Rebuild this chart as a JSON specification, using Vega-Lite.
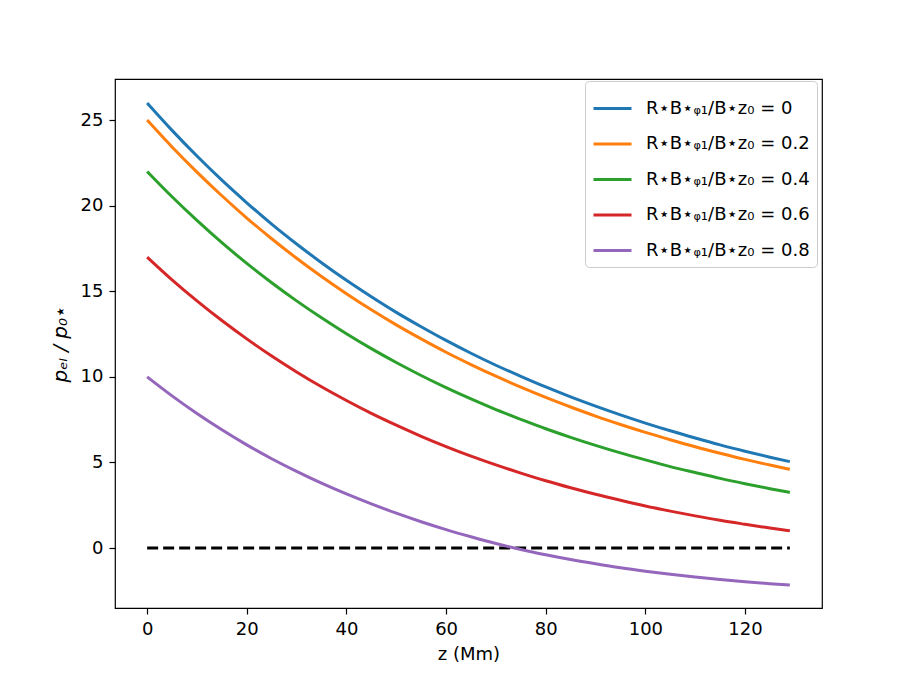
{
  "$schema": "https://vega.github.io/schema/vega-lite/v6.json",
  "width": 707,
  "height": 529,
  "autosize": {"type": "none"},
  "padding": {"left": 115, "top": 79, "right": 91, "bottom": 76},
  "config": {
    "font": "DejaVu Sans",
    "view": {"stroke": "black", "strokeWidth": 1.2},
    "axis": {
      "grid": false,
      "domain": false,
      "tickColor": "black",
      "tickSize": 6,
      "tickWidth": 1.2,
      "labelColor": "black",
      "labelFontSize": 18,
      "labelPadding": 6,
      "titleColor": "black",
      "titleFontSize": 18,
      "titleFontWeight": "normal"
    }
  },
  "datasets": {
    "curves": [
      {"z": 0, "p": 26.0, "s": "R⋆B⋆ᵩ₁/B⋆z₀ = 0"},
      {"z": 5, "p": 24.4, "s": "R⋆B⋆ᵩ₁/B⋆z₀ = 0"},
      {"z": 10, "p": 22.9, "s": "R⋆B⋆ᵩ₁/B⋆z₀ = 0"},
      {"z": 15, "p": 21.49, "s": "R⋆B⋆ᵩ₁/B⋆z₀ = 0"},
      {"z": 20, "p": 20.17, "s": "R⋆B⋆ᵩ₁/B⋆z₀ = 0"},
      {"z": 25, "p": 18.92, "s": "R⋆B⋆ᵩ₁/B⋆z₀ = 0"},
      {"z": 30, "p": 17.76, "s": "R⋆B⋆ᵩ₁/B⋆z₀ = 0"},
      {"z": 35, "p": 16.67, "s": "R⋆B⋆ᵩ₁/B⋆z₀ = 0"},
      {"z": 40, "p": 15.64, "s": "R⋆B⋆ᵩ₁/B⋆z₀ = 0"},
      {"z": 45, "p": 14.68, "s": "R⋆B⋆ᵩ₁/B⋆z₀ = 0"},
      {"z": 50, "p": 13.77, "s": "R⋆B⋆ᵩ₁/B⋆z₀ = 0"},
      {"z": 55, "p": 12.93, "s": "R⋆B⋆ᵩ₁/B⋆z₀ = 0"},
      {"z": 60, "p": 12.13, "s": "R⋆B⋆ᵩ₁/B⋆z₀ = 0"},
      {"z": 65, "p": 11.38, "s": "R⋆B⋆ᵩ₁/B⋆z₀ = 0"},
      {"z": 70, "p": 10.68, "s": "R⋆B⋆ᵩ₁/B⋆z₀ = 0"},
      {"z": 75, "p": 10.03, "s": "R⋆B⋆ᵩ₁/B⋆z₀ = 0"},
      {"z": 80, "p": 9.41, "s": "R⋆B⋆ᵩ₁/B⋆z₀ = 0"},
      {"z": 85, "p": 8.83, "s": "R⋆B⋆ᵩ₁/B⋆z₀ = 0"},
      {"z": 90, "p": 8.29, "s": "R⋆B⋆ᵩ₁/B⋆z₀ = 0"},
      {"z": 95, "p": 7.78, "s": "R⋆B⋆ᵩ₁/B⋆z₀ = 0"},
      {"z": 100, "p": 7.3, "s": "R⋆B⋆ᵩ₁/B⋆z₀ = 0"},
      {"z": 105, "p": 6.85, "s": "R⋆B⋆ᵩ₁/B⋆z₀ = 0"},
      {"z": 110, "p": 6.43, "s": "R⋆B⋆ᵩ₁/B⋆z₀ = 0"},
      {"z": 115, "p": 6.03, "s": "R⋆B⋆ᵩ₁/B⋆z₀ = 0"},
      {"z": 120, "p": 5.66, "s": "R⋆B⋆ᵩ₁/B⋆z₀ = 0"},
      {"z": 125, "p": 5.31, "s": "R⋆B⋆ᵩ₁/B⋆z₀ = 0"},
      {"z": 129, "p": 5.05, "s": "R⋆B⋆ᵩ₁/B⋆z₀ = 0"},
      {"z": 0, "p": 25.0, "s": "R⋆B⋆ᵩ₁/B⋆z₀ = 0.2"},
      {"z": 5, "p": 23.43, "s": "R⋆B⋆ᵩ₁/B⋆z₀ = 0.2"},
      {"z": 10, "p": 21.96, "s": "R⋆B⋆ᵩ₁/B⋆z₀ = 0.2"},
      {"z": 15, "p": 20.58, "s": "R⋆B⋆ᵩ₁/B⋆z₀ = 0.2"},
      {"z": 20, "p": 19.28, "s": "R⋆B⋆ᵩ₁/B⋆z₀ = 0.2"},
      {"z": 25, "p": 18.07, "s": "R⋆B⋆ᵩ₁/B⋆z₀ = 0.2"},
      {"z": 30, "p": 16.93, "s": "R⋆B⋆ᵩ₁/B⋆z₀ = 0.2"},
      {"z": 35, "p": 15.86, "s": "R⋆B⋆ᵩ₁/B⋆z₀ = 0.2"},
      {"z": 40, "p": 14.86, "s": "R⋆B⋆ᵩ₁/B⋆z₀ = 0.2"},
      {"z": 45, "p": 13.92, "s": "R⋆B⋆ᵩ₁/B⋆z₀ = 0.2"},
      {"z": 50, "p": 13.04, "s": "R⋆B⋆ᵩ₁/B⋆z₀ = 0.2"},
      {"z": 55, "p": 12.22, "s": "R⋆B⋆ᵩ₁/B⋆z₀ = 0.2"},
      {"z": 60, "p": 11.44, "s": "R⋆B⋆ᵩ₁/B⋆z₀ = 0.2"},
      {"z": 65, "p": 10.72, "s": "R⋆B⋆ᵩ₁/B⋆z₀ = 0.2"},
      {"z": 70, "p": 10.04, "s": "R⋆B⋆ᵩ₁/B⋆z₀ = 0.2"},
      {"z": 75, "p": 9.4, "s": "R⋆B⋆ᵩ₁/B⋆z₀ = 0.2"},
      {"z": 80, "p": 8.8, "s": "R⋆B⋆ᵩ₁/B⋆z₀ = 0.2"},
      {"z": 85, "p": 8.24, "s": "R⋆B⋆ᵩ₁/B⋆z₀ = 0.2"},
      {"z": 90, "p": 7.71, "s": "R⋆B⋆ᵩ₁/B⋆z₀ = 0.2"},
      {"z": 95, "p": 7.22, "s": "R⋆B⋆ᵩ₁/B⋆z₀ = 0.2"},
      {"z": 100, "p": 6.76, "s": "R⋆B⋆ᵩ₁/B⋆z₀ = 0.2"},
      {"z": 105, "p": 6.33, "s": "R⋆B⋆ᵩ₁/B⋆z₀ = 0.2"},
      {"z": 110, "p": 5.92, "s": "R⋆B⋆ᵩ₁/B⋆z₀ = 0.2"},
      {"z": 115, "p": 5.54, "s": "R⋆B⋆ᵩ₁/B⋆z₀ = 0.2"},
      {"z": 120, "p": 5.18, "s": "R⋆B⋆ᵩ₁/B⋆z₀ = 0.2"},
      {"z": 125, "p": 4.85, "s": "R⋆B⋆ᵩ₁/B⋆z₀ = 0.2"},
      {"z": 129, "p": 4.6, "s": "R⋆B⋆ᵩ₁/B⋆z₀ = 0.2"},
      {"z": 0, "p": 22.0, "s": "R⋆B⋆ᵩ₁/B⋆z₀ = 0.4"},
      {"z": 5, "p": 20.52, "s": "R⋆B⋆ᵩ₁/B⋆z₀ = 0.4"},
      {"z": 10, "p": 19.14, "s": "R⋆B⋆ᵩ₁/B⋆z₀ = 0.4"},
      {"z": 15, "p": 17.84, "s": "R⋆B⋆ᵩ₁/B⋆z₀ = 0.4"},
      {"z": 20, "p": 16.63, "s": "R⋆B⋆ᵩ₁/B⋆z₀ = 0.4"},
      {"z": 25, "p": 15.5, "s": "R⋆B⋆ᵩ₁/B⋆z₀ = 0.4"},
      {"z": 30, "p": 14.44, "s": "R⋆B⋆ᵩ₁/B⋆z₀ = 0.4"},
      {"z": 35, "p": 13.45, "s": "R⋆B⋆ᵩ₁/B⋆z₀ = 0.4"},
      {"z": 40, "p": 12.52, "s": "R⋆B⋆ᵩ₁/B⋆z₀ = 0.4"},
      {"z": 45, "p": 11.65, "s": "R⋆B⋆ᵩ₁/B⋆z₀ = 0.4"},
      {"z": 50, "p": 10.84, "s": "R⋆B⋆ᵩ₁/B⋆z₀ = 0.4"},
      {"z": 55, "p": 10.08, "s": "R⋆B⋆ᵩ₁/B⋆z₀ = 0.4"},
      {"z": 60, "p": 9.37, "s": "R⋆B⋆ᵩ₁/B⋆z₀ = 0.4"},
      {"z": 65, "p": 8.71, "s": "R⋆B⋆ᵩ₁/B⋆z₀ = 0.4"},
      {"z": 70, "p": 8.09, "s": "R⋆B⋆ᵩ₁/B⋆z₀ = 0.4"},
      {"z": 75, "p": 7.52, "s": "R⋆B⋆ᵩ₁/B⋆z₀ = 0.4"},
      {"z": 80, "p": 6.97, "s": "R⋆B⋆ᵩ₁/B⋆z₀ = 0.4"},
      {"z": 85, "p": 6.47, "s": "R⋆B⋆ᵩ₁/B⋆z₀ = 0.4"},
      {"z": 90, "p": 6.0, "s": "R⋆B⋆ᵩ₁/B⋆z₀ = 0.4"},
      {"z": 95, "p": 5.56, "s": "R⋆B⋆ᵩ₁/B⋆z₀ = 0.4"},
      {"z": 100, "p": 5.15, "s": "R⋆B⋆ᵩ₁/B⋆z₀ = 0.4"},
      {"z": 105, "p": 4.76, "s": "R⋆B⋆ᵩ₁/B⋆z₀ = 0.4"},
      {"z": 110, "p": 4.41, "s": "R⋆B⋆ᵩ₁/B⋆z₀ = 0.4"},
      {"z": 115, "p": 4.07, "s": "R⋆B⋆ᵩ₁/B⋆z₀ = 0.4"},
      {"z": 120, "p": 3.76, "s": "R⋆B⋆ᵩ₁/B⋆z₀ = 0.4"},
      {"z": 125, "p": 3.47, "s": "R⋆B⋆ᵩ₁/B⋆z₀ = 0.4"},
      {"z": 129, "p": 3.25, "s": "R⋆B⋆ᵩ₁/B⋆z₀ = 0.4"},
      {"z": 0, "p": 17.0, "s": "R⋆B⋆ᵩ₁/B⋆z₀ = 0.6"},
      {"z": 5, "p": 15.67, "s": "R⋆B⋆ᵩ₁/B⋆z₀ = 0.6"},
      {"z": 10, "p": 14.44, "s": "R⋆B⋆ᵩ₁/B⋆z₀ = 0.6"},
      {"z": 15, "p": 13.29, "s": "R⋆B⋆ᵩ₁/B⋆z₀ = 0.6"},
      {"z": 20, "p": 12.22, "s": "R⋆B⋆ᵩ₁/B⋆z₀ = 0.6"},
      {"z": 25, "p": 11.22, "s": "R⋆B⋆ᵩ₁/B⋆z₀ = 0.6"},
      {"z": 30, "p": 10.29, "s": "R⋆B⋆ᵩ₁/B⋆z₀ = 0.6"},
      {"z": 35, "p": 9.42, "s": "R⋆B⋆ᵩ₁/B⋆z₀ = 0.6"},
      {"z": 40, "p": 8.62, "s": "R⋆B⋆ᵩ₁/B⋆z₀ = 0.6"},
      {"z": 45, "p": 7.87, "s": "R⋆B⋆ᵩ₁/B⋆z₀ = 0.6"},
      {"z": 50, "p": 7.18, "s": "R⋆B⋆ᵩ₁/B⋆z₀ = 0.6"},
      {"z": 55, "p": 6.53, "s": "R⋆B⋆ᵩ₁/B⋆z₀ = 0.6"},
      {"z": 60, "p": 5.93, "s": "R⋆B⋆ᵩ₁/B⋆z₀ = 0.6"},
      {"z": 65, "p": 5.37, "s": "R⋆B⋆ᵩ₁/B⋆z₀ = 0.6"},
      {"z": 70, "p": 4.86, "s": "R⋆B⋆ᵩ₁/B⋆z₀ = 0.6"},
      {"z": 75, "p": 4.38, "s": "R⋆B⋆ᵩ₁/B⋆z₀ = 0.6"},
      {"z": 80, "p": 3.93, "s": "R⋆B⋆ᵩ₁/B⋆z₀ = 0.6"},
      {"z": 85, "p": 3.52, "s": "R⋆B⋆ᵩ₁/B⋆z₀ = 0.6"},
      {"z": 90, "p": 3.14, "s": "R⋆B⋆ᵩ₁/B⋆z₀ = 0.6"},
      {"z": 95, "p": 2.79, "s": "R⋆B⋆ᵩ₁/B⋆z₀ = 0.6"},
      {"z": 100, "p": 2.46, "s": "R⋆B⋆ᵩ₁/B⋆z₀ = 0.6"},
      {"z": 105, "p": 2.16, "s": "R⋆B⋆ᵩ₁/B⋆z₀ = 0.6"},
      {"z": 110, "p": 1.88, "s": "R⋆B⋆ᵩ₁/B⋆z₀ = 0.6"},
      {"z": 115, "p": 1.62, "s": "R⋆B⋆ᵩ₁/B⋆z₀ = 0.6"},
      {"z": 120, "p": 1.39, "s": "R⋆B⋆ᵩ₁/B⋆z₀ = 0.6"},
      {"z": 125, "p": 1.17, "s": "R⋆B⋆ᵩ₁/B⋆z₀ = 0.6"},
      {"z": 129, "p": 1.01, "s": "R⋆B⋆ᵩ₁/B⋆z₀ = 0.6"},
      {"z": 0, "p": 10.0, "s": "R⋆B⋆ᵩ₁/B⋆z₀ = 0.8"},
      {"z": 5, "p": 8.89, "s": "R⋆B⋆ᵩ₁/B⋆z₀ = 0.8"},
      {"z": 10, "p": 7.86, "s": "R⋆B⋆ᵩ₁/B⋆z₀ = 0.8"},
      {"z": 15, "p": 6.91, "s": "R⋆B⋆ᵩ₁/B⋆z₀ = 0.8"},
      {"z": 20, "p": 6.03, "s": "R⋆B⋆ᵩ₁/B⋆z₀ = 0.8"},
      {"z": 25, "p": 5.22, "s": "R⋆B⋆ᵩ₁/B⋆z₀ = 0.8"},
      {"z": 30, "p": 4.48, "s": "R⋆B⋆ᵩ₁/B⋆z₀ = 0.8"},
      {"z": 35, "p": 3.79, "s": "R⋆B⋆ᵩ₁/B⋆z₀ = 0.8"},
      {"z": 40, "p": 3.16, "s": "R⋆B⋆ᵩ₁/B⋆z₀ = 0.8"},
      {"z": 45, "p": 2.58, "s": "R⋆B⋆ᵩ₁/B⋆z₀ = 0.8"},
      {"z": 50, "p": 2.04, "s": "R⋆B⋆ᵩ₁/B⋆z₀ = 0.8"},
      {"z": 55, "p": 1.54, "s": "R⋆B⋆ᵩ₁/B⋆z₀ = 0.8"},
      {"z": 60, "p": 1.08, "s": "R⋆B⋆ᵩ₁/B⋆z₀ = 0.8"},
      {"z": 65, "p": 0.66, "s": "R⋆B⋆ᵩ₁/B⋆z₀ = 0.8"},
      {"z": 70, "p": 0.27, "s": "R⋆B⋆ᵩ₁/B⋆z₀ = 0.8"},
      {"z": 75, "p": -0.08, "s": "R⋆B⋆ᵩ₁/B⋆z₀ = 0.8"},
      {"z": 80, "p": -0.39, "s": "R⋆B⋆ᵩ₁/B⋆z₀ = 0.8"},
      {"z": 85, "p": -0.67, "s": "R⋆B⋆ᵩ₁/B⋆z₀ = 0.8"},
      {"z": 90, "p": -0.92, "s": "R⋆B⋆ᵩ₁/B⋆z₀ = 0.8"},
      {"z": 95, "p": -1.15, "s": "R⋆B⋆ᵩ₁/B⋆z₀ = 0.8"},
      {"z": 100, "p": -1.35, "s": "R⋆B⋆ᵩ₁/B⋆z₀ = 0.8"},
      {"z": 105, "p": -1.53, "s": "R⋆B⋆ᵩ₁/B⋆z₀ = 0.8"},
      {"z": 110, "p": -1.69, "s": "R⋆B⋆ᵩ₁/B⋆z₀ = 0.8"},
      {"z": 115, "p": -1.84, "s": "R⋆B⋆ᵩ₁/B⋆z₀ = 0.8"},
      {"z": 120, "p": -1.97, "s": "R⋆B⋆ᵩ₁/B⋆z₀ = 0.8"},
      {"z": 125, "p": -2.08, "s": "R⋆B⋆ᵩ₁/B⋆z₀ = 0.8"},
      {"z": 129, "p": -2.15, "s": "R⋆B⋆ᵩ₁/B⋆z₀ = 0.8"}
    ],
    "zero": [
      {"z": 0, "p": 0},
      {"z": 129, "p": 0}
    ]
  },
  "layer": [
    {
      "data": {"name": "zero"},
      "mark": {"type": "line", "color": "black", "strokeWidth": 3, "strokeDash": [11, 5], "clip": true},
      "encoding": {
        "x": {"field": "z", "type": "quantitative"},
        "y": {"field": "p", "type": "quantitative"}
      }
    },
    {
      "data": {"name": "curves"},
      "mark": {"type": "line", "strokeWidth": 3, "interpolate": "monotone", "clip": true},
      "encoding": {
        "x": {
          "field": "z",
          "type": "quantitative",
          "scale": {"domain": [-6.45, 135.45], "nice": false, "zero": false},
          "axis": {"values": [0, 20, 40, 60, 80, 100, 120], "title": "z (Mm)", "titlePadding": 7}
        },
        "y": {
          "field": "p",
          "type": "quantitative",
          "scale": {"domain": [-3.5, 27.4], "nice": false, "zero": false},
          "axis": {"values": [0, 5, 10, 15, 20, 25], "title": "pₑₗ / p₀⋆", "titleFontSize": 20, "titleFontStyle": "italic", "titlePadding": 10}
        },
        "color": {
          "field": "s",
          "type": "nominal",
          "scale": {
            "domain": ["R⋆B⋆ᵩ₁/B⋆z₀ = 0", "R⋆B⋆ᵩ₁/B⋆z₀ = 0.2", "R⋆B⋆ᵩ₁/B⋆z₀ = 0.4", "R⋆B⋆ᵩ₁/B⋆z₀ = 0.6", "R⋆B⋆ᵩ₁/B⋆z₀ = 0.8"],
            "range": ["#1f77b4", "#ff7f0e", "#2ca02c", "#d62728", "#9467bd"]
          },
          "legend": {
            "title": null,
            "orient": "none",
            "legendX": 470,
            "legendY": 2,
            "direction": "vertical",
            "symbolType": "stroke",
            "symbolSize": 1444,
            "symbolStrokeWidth": 3,
            "labelFontSize": 18,
            "labelColor": "black",
            "labelOffset": 13,
            "labelLimit": 300,
            "rowPadding": 5.5,
            "padding": 7,
            "strokeColor": "#cccccc",
            "fillColor": "white",
            "cornerRadius": 4
          }
        }
      }
    }
  ]
}
